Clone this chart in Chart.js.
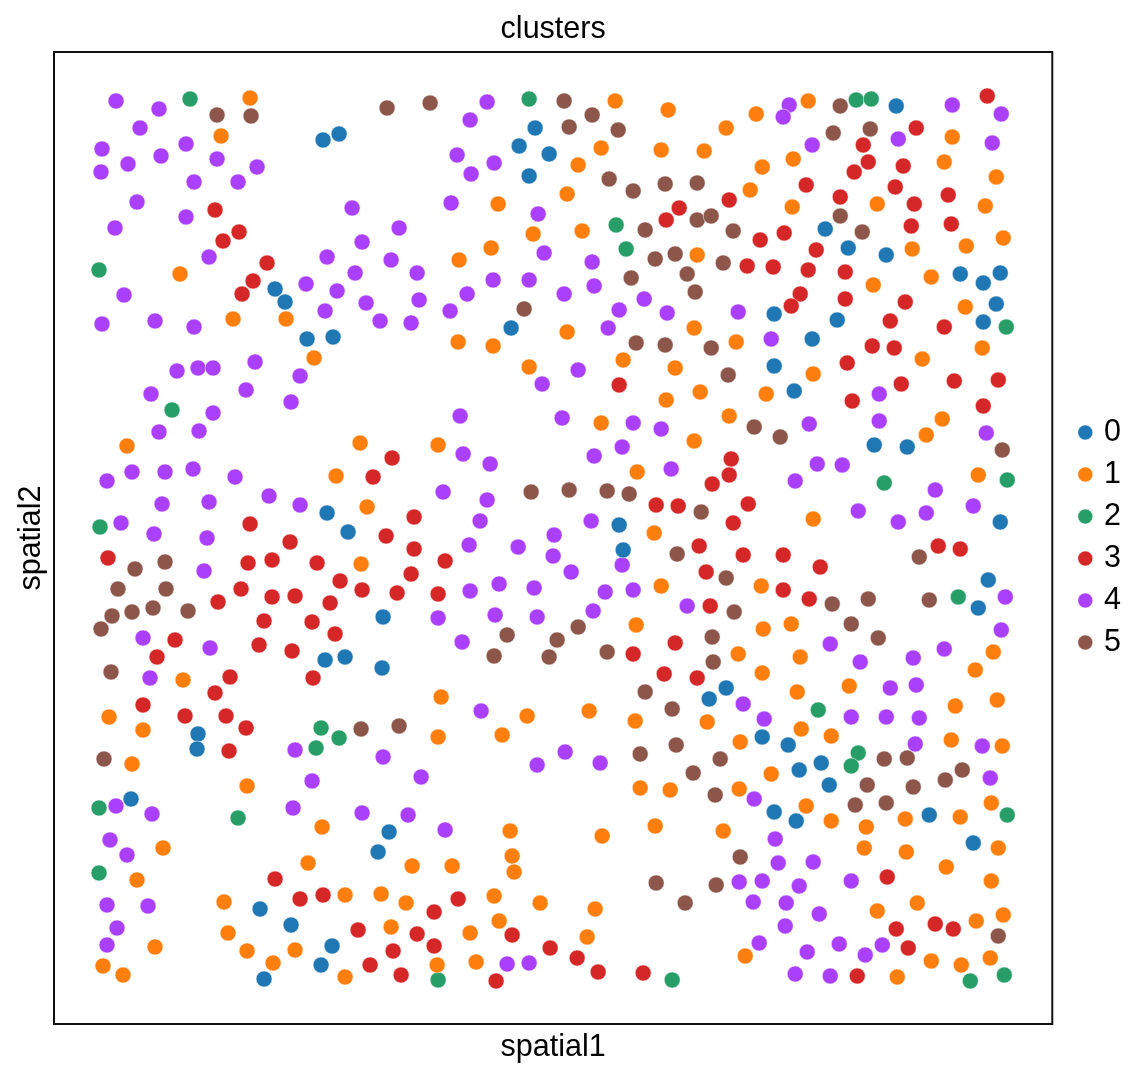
<!DOCTYPE html>
<html>
<head>
<meta charset="utf-8">
<title>clusters</title>
<script src="https://cdn.jsdelivr.net/npm/chart.js@4"></script>
<style>
    html, body { margin: 0; padding: 0; background: #fff; }
    canvas { display: block; }
</style>
</head>
<body>
<canvas id="clusterChart" width="1147" height="1079"></canvas>
<script>
const clusterNames = ['0', '1', '2', '3', '4', '5'];
const clusterColors = ['#1f77b4', '#ff7f0e', '#279e68', '#d62728', '#aa40fc', '#8c564b'];

// [spatial1, spatial2]
const cluster0 = [[323,140],[339,134],[535,128],[519,146],[549,154],[529,176],[896,106],[825,229],[848,248],[886,255],[960,274],[983,283],[1000,273],[996,304],[983,322],[837,320],[812,339],[774,314],[774,366],[794,391],[874,445],[907,447],[511,328],[333,337],[307,339],[285,302],[275,289],[327,513],[348,532],[619,525],[623,550],[1000,522],[988,580],[978,608],[383,617],[325,660],[345,657],[382,668],[198,734],[197,749],[131,799],[709,699],[726,688],[762,737],[788,745],[799,770],[821,763],[829,785],[774,812],[796,821],[929,815],[973,843],[389,832],[378,852],[260,909],[291,925],[332,946],[321,965],[264,979]];
const cluster1 = [[250,98],[221,136],[615,101],[668,110],[756,114],[808,101],[726,128],[601,148],[661,150],[704,151],[578,165],[567,194],[498,204],[533,234],[491,248],[459,260],[582,231],[697,255],[180,274],[233,319],[286,319],[314,358],[458,342],[493,346],[567,332],[529,367],[623,360],[675,368],[694,328],[736,342],[700,392],[666,400],[601,423],[729,416],[694,441],[637,472],[766,394],[813,374],[873,285],[922,359],[982,348],[965,307],[931,277],[912,249],[966,246],[1003,238],[985,206],[996,177],[944,162],[952,137],[877,204],[792,207],[793,159],[762,167],[750,190],[942,419],[926,435],[978,475],[127,446],[360,443],[438,445],[336,476],[367,507],[813,519],[654,533],[361,564],[661,586],[761,586],[636,625],[763,629],[791,624],[738,654],[800,657],[762,673],[993,652],[975,670],[997,700],[955,706],[849,686],[797,692],[183,680],[109,717],[143,730],[132,764],[441,697],[527,716],[589,711],[635,721],[707,722],[502,735],[438,737],[801,729],[831,736],[740,742],[951,740],[1002,746],[771,774],[247,786],[640,788],[670,790],[739,789],[806,806],[831,821],[866,827],[905,819],[960,817],[991,803],[322,827],[510,831],[602,836],[655,826],[723,831],[163,848],[864,848],[906,852],[998,848],[946,867],[308,863],[412,866],[452,866],[512,856],[514,872],[137,880],[991,881],[224,902],[345,895],[381,894],[406,903],[494,896],[540,903],[595,909],[917,903],[877,911],[1003,915],[976,921],[228,933],[391,927],[470,933],[499,921],[587,937],[155,947],[247,951],[295,950],[103,966],[123,975],[273,963],[345,977],[437,965],[476,962],[745,956],[897,977],[931,961],[961,965],[990,958]];
const cluster2 = [[190,99],[529,99],[856,100],[871,99],[616,225],[626,249],[99,270],[1006,327],[172,410],[884,483],[1007,480],[100,527],[958,597],[818,710],[321,728],[316,748],[339,738],[858,753],[851,766],[238,818],[99,808],[1007,815],[99,873],[438,980],[672,980],[970,981],[1004,975]];
const cluster3 = [[987,96],[916,128],[868,162],[863,145],[854,172],[903,166],[840,197],[806,185],[895,187],[948,195],[729,200],[679,208],[666,220],[215,210],[223,241],[239,232],[267,263],[253,281],[242,294],[911,226],[951,224],[914,204],[784,233],[760,240],[816,250],[747,266],[773,267],[808,270],[845,272],[800,294],[791,306],[845,299],[905,302],[890,321],[944,327],[872,346],[894,348],[847,363],[998,380],[954,381],[901,384],[852,401],[983,406],[619,385],[731,459],[729,475],[712,484],[748,504],[733,523],[392,458],[373,477],[656,505],[678,506],[414,517],[386,536],[250,524],[290,542],[414,549],[445,561],[699,546],[743,555],[783,555],[783,590],[820,567],[938,546],[960,549],[108,558],[248,563],[272,560],[317,563],[411,574],[340,581],[362,590],[397,593],[438,594],[241,589],[272,597],[295,596],[330,603],[218,602],[706,572],[809,599],[710,606],[264,621],[312,622],[335,634],[175,640],[157,657],[259,645],[292,651],[675,643],[633,654],[664,674],[697,678],[230,677],[313,678],[215,693],[143,705],[185,716],[226,716],[246,728],[229,751],[887,877],[275,879],[300,899],[323,895],[458,899],[434,912],[896,929],[935,924],[953,929],[358,930],[417,934],[512,935],[434,946],[393,951],[550,948],[908,948],[577,958],[370,965],[401,975],[496,981],[598,972],[643,973],[857,976]];
const cluster4 = [[116,101],[159,109],[140,128],[102,149],[128,164],[101,172],[161,156],[186,144],[217,159],[194,182],[238,182],[257,167],[137,202],[186,217],[115,228],[352,208],[399,228],[362,242],[209,257],[327,257],[391,260],[355,273],[417,273],[306,284],[337,291],[124,295],[102,324],[155,321],[194,327],[366,303],[325,311],[380,321],[411,323],[419,300],[487,102],[470,120],[457,155],[494,163],[471,174],[451,203],[538,214],[544,253],[529,280],[493,280],[467,294],[450,311],[592,262],[564,294],[594,286],[619,310],[644,299],[667,313],[608,328],[738,312],[771,339],[789,105],[783,117],[812,145],[898,139],[952,105],[1001,114],[992,143],[255,362],[177,371],[198,368],[213,368],[300,376],[246,390],[151,394],[291,402],[213,413],[159,432],[199,431],[460,416],[542,384],[578,370],[562,418],[633,423],[661,429],[809,424],[622,447],[594,456],[463,454],[490,464],[671,469],[879,394],[879,421],[986,433],[107,481],[132,472],[165,472],[193,469],[235,477],[162,504],[209,502],[269,496],[300,505],[443,492],[487,500],[480,521],[121,523],[154,534],[207,538],[469,545],[518,547],[554,535],[553,556],[591,521],[795,481],[817,464],[842,465],[858,511],[898,522],[926,513],[973,506],[935,490],[204,571],[571,572],[622,565],[470,591],[499,584],[534,588],[605,592],[633,590],[1005,597],[687,606],[438,618],[495,615],[537,617],[593,611],[1001,630],[143,638],[210,648],[462,642],[830,644],[860,662],[913,658],[944,649],[150,678],[890,688],[916,685],[743,704],[851,717],[886,717],[919,718],[764,719],[481,711],[295,750],[383,757],[565,752],[537,765],[600,763],[915,744],[982,746],[312,781],[421,777],[990,778],[116,806],[152,814],[293,808],[362,813],[408,815],[445,830],[754,799],[110,840],[127,855],[775,839],[778,863],[813,862],[739,882],[762,881],[799,886],[851,881],[107,905],[148,906],[117,928],[753,902],[786,903],[819,914],[785,926],[107,945],[759,943],[807,952],[839,944],[865,955],[882,945],[507,964],[529,963],[795,974],[830,976]];
const cluster5 = [[217,115],[251,116],[387,108],[430,103],[564,101],[592,115],[569,127],[618,130],[840,106],[833,133],[870,129],[609,179],[633,191],[665,184],[697,183],[840,216],[862,232],[697,220],[711,216],[645,230],[733,231],[655,259],[675,254],[723,263],[631,278],[687,274],[695,292],[524,309],[636,343],[665,345],[711,348],[728,375],[754,427],[780,437],[1002,450],[531,492],[569,490],[607,491],[629,494],[701,512],[677,554],[726,578],[919,557],[135,569],[165,562],[118,589],[166,589],[112,616],[132,612],[153,608],[188,611],[101,629],[929,600],[868,599],[832,604],[734,612],[851,624],[878,638],[578,627],[507,635],[557,640],[712,637],[713,662],[494,656],[549,657],[607,652],[111,672],[645,692],[672,709],[361,729],[399,726],[104,759],[640,754],[676,745],[720,759],[693,773],[884,759],[907,758],[867,785],[913,787],[945,780],[962,770],[715,795],[855,805],[886,803],[740,857],[656,883],[716,885],[685,903],[998,936]];

const clusterPoints = [cluster0, cluster1, cluster2, cluster3, cluster4, cluster5];

const fontFamily = '"Liberation Sans", Arial, sans-serif';
const fontSize = 30.5;

// spines all round, chart.js only gives left and bottom
const frameBorder = {
    id: 'frameBorder',
    afterDatasetsDraw(chart) {
        const { ctx, chartArea } = chart;
        ctx.save();
        ctx.strokeStyle = '#111';
        ctx.lineWidth = 2;
        ctx.strokeRect(chartArea.left, chartArea.top, chartArea.right - chartArea.left, chartArea.bottom - chartArea.top);
        ctx.restore();
    }
};

new Chart(document.getElementById('clusterChart').getContext('2d'), {
    type: 'scatter',
    plugins: [frameBorder],
    data: {
        datasets: clusterNames.map((name, i) => ({
            label: name,
            data: clusterPoints[i].map(p => ({ x: p[0], y: p[1] })),
            backgroundColor: clusterColors[i],
            borderColor: '#fff',
            borderWidth: 0.5,
            pointRadius: 8,
            pointStyle: 'circle'
        }))
    },
    options: {
        responsive: false,
        animation: false,
        layout: { padding: { left: 13, top: 0, right: 16, bottom: 4 } },
        plugins: {
            title: {
                display: true,
                fullSize: false,
                text: 'clusters',
                color: '#000',
                font: { family: fontFamily, size: fontSize, weight: 'normal', lineHeight: 1.2 },
                padding: { top: 11, bottom: 4.4 }
            },
            legend: {
                display: true,
                position: 'right',
                labels: {
                    usePointStyle: true,
                    boxWidth: 7,
                    boxHeight: 10.6,
                    padding: 11.5,
                    color: '#000',
                    font: { family: fontFamily, size: fontSize }
                }
            },
            tooltip: { enabled: false }
        },
        scales: {
            x: {
                type: 'linear',
                min: 54,
                max: 1052,
                grid: { display: false, drawTicks: false },
                border: { display: false },
                ticks: { display: false },
                title: {
                    display: true,
                    text: 'spatial1',
                    color: '#000',
                    font: { family: fontFamily, size: fontSize, weight: 'normal' },
                    padding: { top: 5.4, bottom: 9 }
                }
            },
            y: {
                type: 'linear',
                reverse: true,
                min: 52,
                max: 1024,
                grid: { display: false, drawTicks: false },
                border: { display: false },
                ticks: { display: false },
                title: {
                    display: true,
                    text: 'spatial2',
                    color: '#000',
                    font: { family: fontFamily, size: fontSize, weight: 'normal' },
                    padding: { top: 0, bottom: 4.4 }
                }
            },
            // empty axis, only keeps the gap between the frame and the legend
            gap: {
                type: 'linear',
                position: 'right',
                grid: { display: false, drawTicks: false },
                border: { display: false },
                ticks: { display: false },
                afterFit(scale) { scale.width = 18; }
            }
        }
    }
});
</script>
</body>
</html>
